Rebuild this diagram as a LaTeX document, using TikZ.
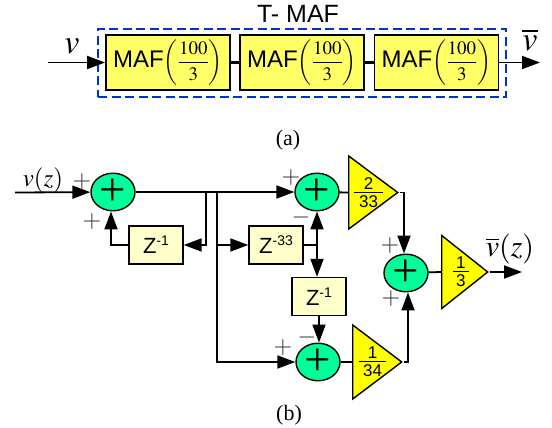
\documentclass[tikz,border=0pt]{standalone}
\usepackage{mathptmx}
\usepackage[no-math]{fontspec}
\newfontfamily\arialfont{Liberation Sans}
\newfontfamily\timesfont{Liberation Serif}
\usetikzlibrary{arrows.meta,shapes.geometric}
\definecolor{sumgreen}{HTML}{00FF99}
\definecolor{mafyellow}{HTML}{FFFF66}
\definecolor{ampyellow}{HTML}{FFFF00}
\definecolor{delaycream}{HTML}{FFFFCC}
\definecolor{dashblue}{HTML}{0033CC}
\definecolor{signgray}{HTML}{333333}
\tikzstyle{maf}=[draw,line width=1.8pt,fill=mafyellow,minimum width=124pt,minimum height=55pt,inner sep=0pt]
\tikzstyle{delay}=[draw,line width=1.4pt,fill=delaycream,minimum width=54pt,minimum height=38pt,inner sep=0pt,font=\arialfont\fontsize{22}{22}\selectfont]
\tikzstyle{sumnode}=[draw,ellipse,line width=1.4pt,fill=sumgreen,minimum width=44pt,minimum height=37pt,inner sep=0pt,font=\timesfont\fontsize{47}{47}\selectfont]
\tikzstyle{amp}=[draw,isosceles triangle,isosceles triangle stretches,shape border rotate=0,line width=1.4pt,fill=ampyellow,inner sep=0pt,anchor=lower side,font=\arialfont\fontsize{17}{17}\selectfont]
\tikzstyle{edge}=[draw,line width=1.8pt,->]
\tikzstyle{wire}=[draw,line width=1.8pt]
\tikzstyle{sign}=[inner sep=0pt,text=signgray,font=\fontsize{24}{24}\selectfont]
\tikzstyle{caption}=[inner sep=0pt,font=\timesfont\fontsize{22}{22}\selectfont]
\newcommand{\maftext}{{\arialfont\fontsize{24}{24}\selectfont MAF}{\fontsize{19}{19}\selectfont$\displaystyle\left(\frac{100}{3}\right)$}}
\newcommand{\delaytext}[1]{Z\raisebox{8pt}{\fontsize{14}{14}\selectfont -#1}}
\newcommand{\ampfrac}[3]{\raisebox{-4pt}[0pt][0pt]{\makebox[12pt]{$\frac{\makebox[#3]{\rule[-2pt]{0pt}{13pt}#1}}{\makebox[#3]{\rule{0pt}{14pt}#2}}$}}}
\begin{document}
\begin{tikzpicture}[x=1pt,y=-1pt,>={Triangle[length=18pt,width=13pt]}]
	\useasboundingbox (0,0) rectangle (552,428);

	% Part (a), the three filters in a row
	\node[draw=dashblue,line width=1.4pt,dash pattern=on 9pt off 4.5pt,minimum width=408pt,minimum height=68pt,inner sep=0pt] (tmaf) at (302,63) {};
	\foreach \pos/\name in {{(168,62.5)/maf1}, {(302,62.5)/maf2}, {(436.5,62.5)/maf3}}
		\node[maf] (\name) at \pos {\maftext};
	\coordinate (vin) at (48,62.5);
	\coordinate (vout) at (540,62.5);
	\path[edge] (vin) -- (maf1);
	\path[edge] (maf3) -- (vout);
	\draw[line width=3pt] (maf1) -- (maf2);
	\draw[line width=3pt] (maf2) -- (maf3);
	\node[inner sep=0pt,font=\arialfont\fontsize{25}{25}\selectfont] (tmaflabel) at (298,14) {T- MAF};
	\node[inner sep=0pt,font=\fontsize{34}{34}\selectfont] (vlabel) at (72,46) {$v$};
	\node[inner sep=0pt,font=\fontsize{34}{34}\selectfont] (vbarlabel) at (530,40) {$\overline{v}$};
	\node[caption] (capa) at (288,140) {(a)};

	% Part (b), sums and delays
	\foreach \pos/\name in {{(113,192)/sum1}, {(317,192)/sum2}, {(318,362)/sum3}, {(406,273)/sum4}}
		\node[sumnode] (\name) at \pos {+};
	\foreach \pos/\name/\power in {{(156,245)/z1/1}, {(276,245)/z33/33}, {(319,296.5)/z2/1}}
		\node[delay] (\name) at \pos {\delaytext{\power}};

	% the gain triangles
	\node[amp,minimum width=73pt,minimum height=49pt] (amp1) at (348,192.5) {\ampfrac{2}{33}{29pt}};
	\node[amp,minimum width=74pt,minimum height=49pt] (amp2) at (352,362) {\ampfrac{1}{34}{27pt}};
	\node[amp,minimum width=73pt,minimum height=46pt] (amp3) at (441,272) {\ampfrac{1}{3}{16pt}};

	\coordinate (in) at (15,192.5);
	\coordinate (out) at (522,272);
	\coordinate (j1) at (206,192.5);
	\coordinate (j2) at (217,192.5);
	\coordinate (j3) at (317,245);

	% Connect everything
	\path[edge] (in) -- (sum1);
	\path[edge] (sum1) -- (sum2);
	\path[edge] (j1) |- (z1.east);
	\path[edge] (z1.west) -| ([xshift=-2pt]sum1.south);
	\path[edge] (j2) |- (z33.west);
	\path[edge] (j2) |- (sum3.west);
	\path[wire] (z33.east) -- (j3);
	\path[edge] (j3) -- (sum2.south);
	\path[edge] (j3) -- (j3 |- z2.north);
	\path[edge] (z2.south) -- (z2.south |- sum3.north);
	\path[wire] (sum2) -- (amp1.lower side);
	\path[wire] (sum3) -- (amp2.lower side);
	\path[wire] (sum4) -- (amp3.lower side);
	\path[edge] (amp1.apex) -| ([xshift=-2pt]sum4.north);
	\path[edge] (amp2.apex) -| ([xshift=2pt]sum4.south);
	\path[edge] (amp3.apex) -- (out);

	% Signs and names
	\foreach \pos/\name/\mark in {{(82,182)/s1/+}, {(92,222)/s2/+}, {(291,178)/s3/+}, {(301,217)/s4/-},
								{(283,348)/s5/+}, {(307,337)/s6/-}, {(390,246)/s7/+}, {(391,299)/s8/+}}
		\node[sign] (\name) at \pos {$\mark$};
	\node[inner sep=0pt,font=\fontsize{25}{25}\selectfont] (vzlabel) at (43,180) {$v(z)$};
	\node[inner sep=0pt,font=\fontsize{30}{30}\selectfont] (vbarzlabel) at (510,249) {$\overline{v}(z)$};
	\node[caption] (capb) at (289,415) {(b)};
\end{tikzpicture}
\end{document}
